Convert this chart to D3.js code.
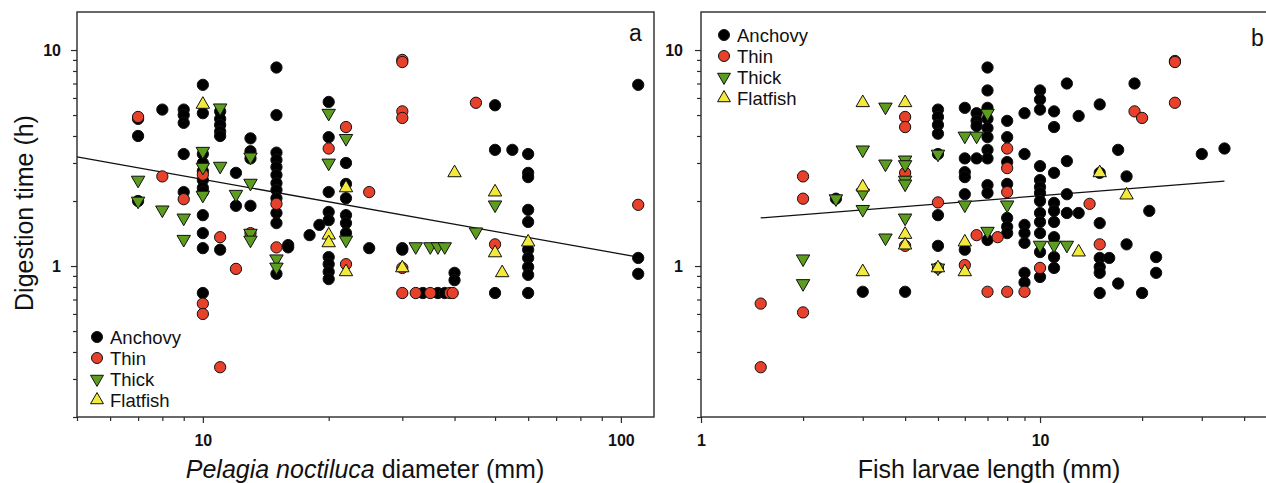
<!DOCTYPE html>
<html>
<head>
<meta charset="utf-8">
<script src="https://cdn.jsdelivr.net/npm/d3@7"></script>
<style>
  html, body { margin: 0; padding: 0; background: #fff; }
  svg { display: block; font-family: "Liberation Sans", Arial, sans-serif; }
</style>
</head>
<body>
<svg id="chart" width="1266" height="483"></svg>
<script>
// --- DATA ---
const groups = ["Anchovy", "Thin", "Thick", "Flatfish"];

// panel a: Pelagia diameter (mm) vs digestion time (h)
const aAnchovy = [
  [7,4.8],[7,4.0],[7,2.0],[8,5.3],
  [9,5.3],[9,5.0],[9,4.6],[9,3.3],[9,2.2],
  [10,6.9],[10,5.1],[10,3.3],[10,3.0],[10,2.75],[10,2.5],[10,2.3],[10,2.2],[10,1.72],[10,1.42],[10,1.21],[10,0.75],
  [11,5.2],[11,4.8],[11,4.5],[11,4.2],[11,4.0],[11,1.19],
  [12,2.7],[12,1.9],[13,3.9],[13,3.4],[13,3.15],[13,1.9],
  [15,8.3],[15,5.0],[15,3.35],[15,3.1],[15,2.87],[15,2.64],[15,2.42],[15,2.25],[15,2.06],[15,1.76],[15,1.58],[15,0.92],
  [16,1.25],[16,1.22],[18,1.39],[19,1.55],
  [20,5.75],[20,3.95],[20,2.2],[20,1.78],[20,1.63],[20,1.1],[20,1.02],[20,0.94],[20,0.87],
  [22,3.0],[22,2.4],[22,2.06],[22,1.72],[22,1.58],[22,1.42],
  [25,1.21],[30,1.21],[30,1.19],
  [33.6,0.75],[36.5,0.75],[37.9,0.75],[40,0.93],[40,0.86],
  [50,5.55],[50,3.45],[50,0.75],[55,3.45],
  [60,3.3],[60,2.7],[60,2.58],[60,1.82],[60,1.6],[60,1.19],[60,1.09],[60,0.99],[60,0.91],[60,0.75],
  [110,6.9],[110,1.09],[110,0.92]
];
const aThin = [
  [7,4.9],[8,2.6],[9,2.04],[10,2.65],[10,0.67],[10,0.6],[11,1.36],[11,0.34],[12,0.97],[13,1.42],
  [15,1.94],[15,1.22],[20,3.5],[22,4.4],[22,1.02],[25,2.2],
  [30,9.0],[30,8.8],[30,5.2],[30,4.85],[30,0.98],[30,0.75],
  [32.3,0.75],[35,0.75],[39,0.75],[39.6,0.75],[45,5.7],[50,1.26],[110,1.92]
];
const aThick = [
  [7,2.5],[7,2.0],[8,1.82],[9,1.67],[9,1.33],[10,3.4],[10,2.87],[10,2.13],[11,5.4],[11,2.9],[12,2.15],
  [13,3.2],[13,2.42],[13,1.42],[13,1.32],[15,1.08],[15,0.99],[20,5.1],[20,3.0],[22,3.9],[22,1.32],
  [32.3,1.23],[35,1.23],[36.5,1.23],[37.9,1.23],[45,1.44],[50,1.92]
];
const aFlatfish = [
  [10,5.6],[20,1.39],[20,1.28],[22,2.3],[22,0.94],[30,0.98],[40,2.7],[50,2.2],[50,1.15],[52,0.93],[60,1.29]
];
const aFit = [[5, 3.2], [110, 1.1]];

// panel b: fish larvae length (mm) vs digestion time (h)
const bAnchovy = [
  [2.5,2.05],[3,0.76],[4,0.76],
  [5,5.3],[5,4.9],[5,4.5],[5,4.1],[5,3.3],[5,1.72],[5,1.24],
  [6,5.4],[6,3.15],[6,2.72],[6,2.58],[6,2.15],[6,1.19],
  [6.5,5.1],[6.5,4.7],[6.5,4.45],[6.5,3.15],
  [7,8.3],[7,6.5],[7,5.4],[7,4.8],[7,4.35],[7,3.95],[7,3.45],[7,3.15],[7,2.37],[7,2.18],[7,1.32],
  [8,4.7],[8,3.95],[8,3.03],[8,2.4],[8,1.67],[8,1.52],[8,1.42],
  [9,5.1],[9,3.3],[9,1.55],[9,1.42],[9,1.28],[9,0.93],[9,0.84],
  [10,6.5],[10,5.9],[10,5.3],[10,2.9],[10,2.5],[10,2.32],[10,2.18],[10,2.0],[10,1.76],[10,1.6],[10,1.42],[10,1.16],[10,0.89],
  [11,5.2],[11,4.4],[11,2.7],[11,1.96],[11,1.8],[11,1.6],[11,1.36],[11,1.1],[11,0.98],
  [12,7.0],[12,3.06],[12,2.15],[12,1.76],[13,4.95],[13,1.76],
  [15,5.6],[15,2.7],[15,1.58],[15,1.09],[15,0.99],[15,0.93],[15,0.75],
  [16,1.09],[17,3.45],[17,0.83],[18,2.6],[18,1.26],[19,7.0],[20,0.75],[21,1.8],[22,1.1],[22,0.93],[30,3.3],[35,3.5]
];
const bThin = [
  [1.5,0.67],[1.5,0.34],[2,2.6],[2,2.05],[2,0.61],[4,4.9],[4,4.4],[4,2.7],[4,1.24],[5,1.97],[5,0.98],
  [6,1.01],[6.5,1.39],[7,0.76],[7.5,1.36],[8,3.5],[8,2.84],[8,2.2],[8,0.76],[9,0.76],[10,0.98],
  [14,1.94],[15,1.26],[19,5.2],[20,4.85],[25,8.9],[25,8.8],[25,5.7]
];
const bThick = [
  [2,1.08],[2,0.83],[2.5,2.05],[3,3.45],[3,2.18],[3,1.83],[3.5,5.45],[3.5,2.97],[3.5,1.35],
  [4,3.1],[4,2.95],[4,2.5],[4,2.4],[4,1.67],[5,3.3],[5,0.98],[6,4.0],[6,1.92],[6.5,4.0],
  [7,5.1],[7,1.45],[8,1.92],[10,1.25],[11,1.25],[12,1.25]
];
const bFlatfish = [
  [3,5.7],[3,2.32],[3,0.94],[4,5.7],[4,1.4],[4,1.25],[5,0.98],[6,1.29],[6,0.94],[13,1.16],[15,2.7],[18,2.13]
];
const bFit = [[1.5, 1.67], [35, 2.47]];

// ticks
const yMajor = [1, 10];
const yMinor = [0.2, 0.3, 0.4, 0.5, 0.6, 0.7, 0.8, 0.9, 2, 3, 4, 5, 6, 7, 8, 9];
const aXMajor = [10, 100];
const aXMinor = [5, 6, 7, 8, 9, 20, 30, 40, 50, 60, 70, 80, 90];
const bXMajor = [1, 10];
const bXMinor = [2, 3, 4, 5, 6, 7, 8, 9, 20, 30, 40];

// --- STYLE ---
const COLORS = {
    axis: "#2a2a2a",
    Anchovy: "#000000",
    Thin: "#e8412b",
    Thick: "#5c9c1f",
    Flatfish: "#f3e83c"
};
const TOP = 12, BOTTOM = 417;

const svg = d3.select("#chart");

function symbolFor(group, size) {
    if (group === "Anchovy" || group === "Thin") return d3.symbol(d3.symbolCircle, size || 100)();
    return d3.symbol(d3.symbolTriangle, size || 78)();
}
function rotFor(group) {
    return group === "Thick" ? " rotate(180)" : "";
}

function drawPanel(cfg) {
    const g = svg.append("g");
    const x = d3.scaleLog().domain(cfg.xDomain).range([cfg.left, cfg.right]);
    const y = d3.scaleLog().domain([0.2, 15]).range([BOTTOM, TOP]);

    // frame
    g.append("rect")
        .attr("x", cfg.left).attr("y", TOP)
        .attr("width", cfg.right - cfg.left).attr("height", BOTTOM - TOP)
        .attr("fill", "none").attr("stroke", COLORS.axis).attr("stroke-width", 1.4);

    const styleAxis = sel => {
        sel.select(".domain").remove();
        sel.selectAll("line").attr("stroke", COLORS.axis).attr("stroke-width", 1.2);
        sel.selectAll("text").attr("fill", "#111").style("font-size", "16px").style("font-weight", "bold")
            .style("font-family", "'Liberation Sans', Arial, sans-serif");
    };

    // x ticks
    g.append("g").attr("transform", `translate(0,${BOTTOM})`)
        .call(d3.axisBottom(x).tickValues(cfg.xMinor).tickSize(4).tickFormat(""))
        .call(styleAxis);
    g.append("g").attr("transform", `translate(0,${BOTTOM})`)
        .call(d3.axisBottom(x).tickValues(cfg.xMajor).tickSize(6).tickPadding(12).tickFormat(d3.format("d")))
        .call(styleAxis);

    // y ticks
    g.append("g").attr("transform", `translate(${cfg.left},0)`)
        .call(d3.axisLeft(y).tickValues(yMinor).tickSize(4).tickFormat(""))
        .call(styleAxis);
    g.append("g").attr("transform", `translate(${cfg.left},0)`)
        .call(d3.axisLeft(y).tickValues(yMajor).tickSize(6).tickPadding(cfg.yPad).tickFormat(d3.format("d")))
        .call(styleAxis);

    // regression line
    g.append("path").datum(cfg.fit)
        .attr("fill", "none").attr("stroke", "#111").attr("stroke-width", 1.3)
        .attr("d", d3.line().x(d => x(d[0])).y(d => y(d[1])));

    // points: anchovy, thin, thick, flatfish
    groups.forEach((grp, i) => {
        g.append("g").selectAll("path").data(cfg.series[i]).join("path")
            .attr("transform", d => `translate(${x(d[0])},${y(d[1])})${rotFor(grp)}`)
            .attr("d", symbolFor(grp))
            .attr("fill", COLORS[grp])
            .attr("stroke", "#111").attr("stroke-width", 1);
    });

    // legend
    const legend = g.append("g").attr("transform", `translate(${cfg.legend[0]},${cfg.legend[1]})`);
    const items = legend.selectAll("g").data(groups).join("g")
        .attr("transform", (d, i) => `translate(0,${i * 21})`);
    items.append("path")
        .attr("transform", d => `translate(0,0)${rotFor(d)}`)
        .attr("d", d => symbolFor(d, d === "Anchovy" || d === "Thin" ? 95 : 72))
        .attr("fill", d => COLORS[d]).attr("stroke", "#111").attr("stroke-width", 1);
    items.append("text").attr("x", 13).attr("y", 6.5)
        .style("font-size", "18.5px").attr("fill", "#111").text(d => d);

    // panel letter
    g.append("text").attr("x", cfg.letter[0]).attr("y", cfg.letter[1])
        .style("font-size", "23px").attr("fill", "#111").text(cfg.letterText);

    // x title
    const title = g.append("text").attr("x", cfg.titleX).attr("y", 478)
        .attr("text-anchor", "middle").style("font-size", "25px").attr("fill", "#111");
    cfg.title.forEach(t => title.append("tspan").style("font-style", t.italic ? "italic" : "normal").text(t.text));
}

drawPanel({
    xDomain: [5, 120], left: 77, right: 654, yPad: 10,
    xMajor: aXMajor, xMinor: aXMinor,
    series: [aAnchovy, aThin, aThick, aFlatfish], fit: aFit,
    legend: [97, 337], letter: [629, 41], letterText: "a",
    titleX: 365,
    title: [{ text: "Pelagia noctiluca", italic: true }, { text: " diameter (mm)" }]
});

drawPanel({
    xDomain: [1, 50], left: 701, right: 1277, yPad: 12,
    xMajor: bXMajor, xMinor: bXMinor,
    series: [bAnchovy, bThin, bThick, bFlatfish], fit: bFit,
    legend: [724, 35], letter: [1251, 46], letterText: "b",
    titleX: 989,
    title: [{ text: "Fish larvae length (mm)" }]
});

// y title
svg.append("text")
    .attr("transform", "translate(33,213) rotate(-90)")
    .attr("text-anchor", "middle").style("font-size", "25px").attr("fill", "#111")
    .text("Digestion time (h)");
</script>
</body>
</html>
